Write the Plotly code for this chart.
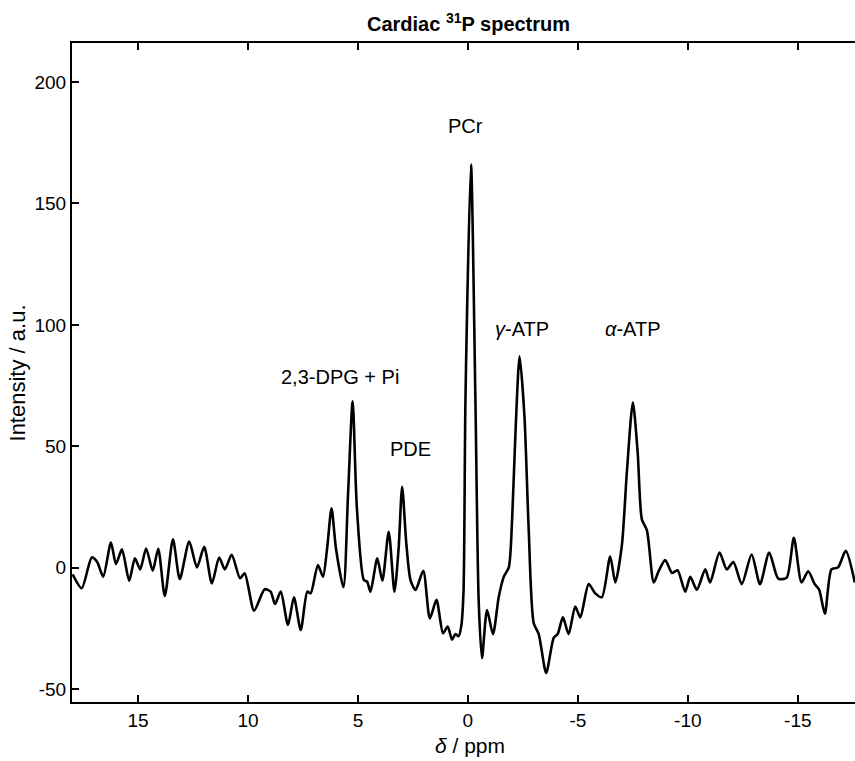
import plotly.graph_objects as go

# Chemical shift (ppm)
ppm = [17.97, 17.56, 17.10, 16.86, 16.58, 16.23, 16.00, 15.73, 15.40, 15.14,
       14.90, 14.63, 14.33, 14.08, 13.78, 13.41, 13.10, 12.67, 12.32, 11.99,
       11.64, 11.31, 11.05, 10.74, 10.36, 10.15, 9.72, 9.24, 8.97, 8.77,
       8.51, 8.18, 7.91, 7.60, 7.30, 7.15, 6.82, 6.59, 6.40, 6.20,
       6.00, 5.66, 5.45, 5.24, 5.05, 4.73, 4.58, 4.43, 4.12, 3.89,
       3.60, 3.34, 3.15, 2.99, 2.80, 2.61, 2.38, 2.03, 1.73, 1.43,
       1.13, 0.92, 0.72, 0.57, 0.42, 0.30, 0.20, 0.11, -0.14, -0.34,
       -0.49, -0.64, -0.87, -1.14, -1.40, -1.63, -1.86, -2.01, -2.16, -2.35,
       -2.57, -2.76, -2.99, -3.22, -3.56, -3.90, -4.08, -4.32, -4.58, -4.88,
       -5.11, -5.49, -5.79, -6.09, -6.47, -6.70, -7.00, -7.23, -7.50, -7.72,
       -7.91, -8.14, -8.45, -8.67, -8.97, -9.28, -9.53, -9.88, -10.11, -10.41,
       -10.79, -11.01, -11.44, -11.77, -12.07, -12.45, -12.90, -13.28, -13.70, -14.11,
       -14.49, -14.82, -15.17, -15.47, -15.77, -15.97, -16.23, -16.53, -16.83, -17.18,
       -17.59]

# Intensity (a.u.)
intensity = [-2.8, -8.5, 4.2, 2.4, -3.7, 10.3, 1.5, 7.5, -5.4, 3.8,
             -0.7, 7.9, -1.3, 7.8, -11.7, 11.7, -4.7, 10.7, 0.1, 8.6,
             -6.5, 4.2, -0.7, 5.3, -4.4, -2.3, -17.7, -8.9, -9.9, -15.0,
             -9.9, -23.6, -12.2, -25.7, -9.9, -10.6, 1.1, -3.7, 8.0, 24.4,
             8.0, -8.1, 30.0, 68.5, 25.0, -5.1, -5.8, -9.9, 3.8, -5.4,
             14.8, -9.9, 8.0, 33.3, 10.0, -5.1, -9.2, -1.3, -20.9, -13.3,
             -27.0, -24.3, -29.7, -27.4, -28.2, -24.0, -10.0, 70.0, 166.0, 70.0,
             -13.7, -37.3, -17.5, -27.4, -12.2, -3.8, 0.1, 19.9, 55.0, 87.0,
             62.6, 16.8, -22.8, -27.4, -43.4, -28.9, -27.4, -20.5, -27.4, -16.0,
             -20.5, -6.8, -10.6, -12.2, 4.6, -6.1, 9.2, 39.7, 68.0, 47.3,
             19.9, 15.3, -6.1, -1.5, 3.1, -2.2, -1.1, -9.9, -3.8, -9.1,
             -0.7, -6.1, 6.2, -0.7, 2.3, -6.8, 5.4, -6.8, 6.2, -4.5,
             -4.2, 12.3, -6.1, -1.5, -6.8, -9.1, -19.0, -0.7, 0.1, 6.9,
             -6.1]

peak_labels = ["PCr", "<i>γ</i>-ATP", "<i>α</i>-ATP", "2,3-DPG + Pi", "PDE"]
label_ppm = [0.1, -2.45, -7.5, 5.8, 2.6]
label_int = [182, 98.5, 98.5, 78.5, 49]

ytick_vals = [-50, 0, 50, 100, 150, 200]
xtick_vals = [15, 10, 5, 0, -5, -10, -15]

font_main = "Liberation Sans, Arial, sans-serif"

fig = go.Figure()
fig.add_trace(go.Scatter(
    x=ppm, y=intensity, mode="lines",
    line=dict(color="black", width=2.6, shape="spline", smoothing=0.7),
    showlegend=False, hoverinfo="skip",
))

for t, xv, yv in zip(peak_labels, label_ppm, label_int):
    fig.add_annotation(x=xv, y=yv, text=t, showarrow=False,
                       font=dict(family=font_main, size=20, color="black"))

# axis titles
fig.add_annotation(xref="paper", yref="paper", x=-0.069, y=0.5,
                   text="Intensity / a.u.", textangle=-90, showarrow=False,
                   xanchor="center", yanchor="middle",
                   font=dict(family=font_main, size=22, color="black"))
fig.add_annotation(xref="paper", yref="paper", x=0.508, y=-0.066,
                   text="<i>δ</i> / ppm", showarrow=False,
                   xanchor="center", yanchor="middle",
                   font=dict(family=font_main, size=21, color="black"))

fig.update_layout(
    width=855, height=761,
    margin=dict(l=72, r=0, t=43, b=59),
    paper_bgcolor="white", plot_bgcolor="white",
    title=dict(text="<b>Cardiac <sup>31</sup>P spectrum</b>",
               x=0.548, xanchor="center", y=0.968, yanchor="middle",
               font=dict(family=font_main, size=20, color="black")),
    xaxis=dict(
        range=[18, -17.6], tickvals=xtick_vals,
        ticktext=[str(v) for v in xtick_vals],
        ticks="inside", ticklen=7, tickwidth=1.5, tickcolor="black",
        showline=True, linecolor="black", linewidth=2, mirror="ticks",
        showgrid=False, zeroline=False,
        tickfont=dict(family=font_main, size=19, color="black"),
    ),
    yaxis=dict(
        range=[-55.35, 216.1], tickvals=ytick_vals,
        ticktext=[str(v) for v in ytick_vals],
        ticks="inside", ticklen=7, tickwidth=1.5, tickcolor="black",
        showline=True, linecolor="black", linewidth=2,
        showgrid=False, zeroline=False,
        tickfont=dict(family=font_main, size=19, color="black"),
    ),
)

fig.write_html("out.html")
